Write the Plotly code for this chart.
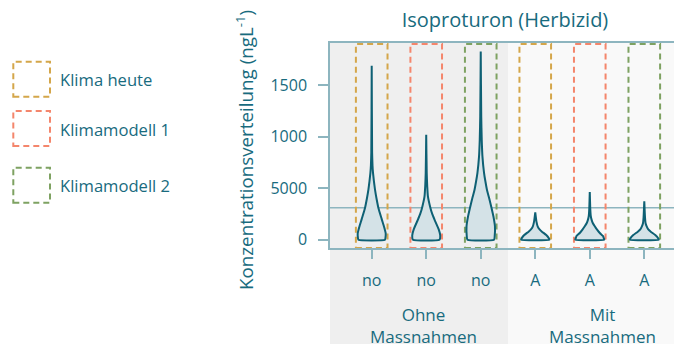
import plotly.graph_objects as go

# ---------------- data ----------------
categories = ["no", "no", "no", "A", "A", "A"]
scenario_names = ["Klima heute", "Klimamodell 1", "Klimamodell 2"]
scenario_of_cat = [0, 1, 2, 0, 1, 2]
groups = ["Ohne<br>Massnahmen", "Mit<br>Massnahmen"]

y_tickvals = [0, 500, 1000, 1500]
y_ticktext = ["0", "5000", "1000", "1500"]
reference_level = 310

# violin profiles: concentration levels and relative density (half width)
v1_levels = [0, 20, 60, 120, 200, 308, 400, 486, 570, 650, 720, 850, 1690]
v1_density = [13.3, 13.8, 14.0, 12.5, 10.0, 6.7, 4.8, 3.3, 2.2, 1.3, 0.8, 0.4, 0.0]
v2_levels = [0, 40, 100, 195, 250, 308, 420, 520, 650, 1020]
v2_density = [13.3, 14.0, 12.5, 8.3, 6.0, 4.2, 1.7, 1.0, 0.5, 0.0]
v3_levels = [0, 40, 130, 220, 308, 400, 486, 570, 650, 810, 970, 1200, 1830]
v3_density = [13.3, 14.0, 14.2, 12.8, 10.8, 8.5, 6.2, 4.6, 3.3, 1.7, 1.0, 0.5, 0.0]
v4_levels = [0, 15, 45, 78, 100, 126, 175, 266]
v4_density = [14.2, 13.5, 11.0, 6.7, 4.3, 2.5, 1.2, 0.0]
v5_levels = [0, 15, 35, 65, 97, 130, 162, 195, 230, 300, 464]
v5_density = [14.5, 14.0, 13.3, 10.0, 7.3, 5.0, 3.0, 1.8, 1.0, 0.5, 0.0]
v6_levels = [0, 15, 45, 78, 100, 126, 160, 220, 373]
v6_density = [14.5, 13.8, 11.0, 6.5, 4.0, 2.5, 1.3, 0.7, 0.0]

violin_levels = [v1_levels, v2_levels, v3_levels, v4_levels, v5_levels, v6_levels]
violin_density = [v1_density, v2_density, v3_density, v4_density, v5_density, v6_density]

# ---------------- style ----------------
W, H = 674, 344
ML, MR, MT, MB = 330, 0, 43, 96
PW, PH = W - ML - MR, H - MT - MB
FONT = "Open Sans"
TEXT = "#186b7e"
AXIS = "#8db5bf"
OUTLINE = "#0e6074"
FILL = "#d4e2e7"
SCEN_COLORS = ["#d4a64a", "#f4866c", "#7ea262"]
DENSITY_SCALE = 1 / 54.5
XR = [-0.765, 5.545]
YR = [-81, 1912]


def px_x(p):
    return (p - ML) / PW


def px_y(p):
    return (MT + PH - p) / PH


fig = go.Figure()

for i, (lv, dn) in enumerate(zip(violin_levels, violin_density)):
    xs = [i + d * DENSITY_SCALE for d in dn] + [i - d * DENSITY_SCALE for d in dn[::-1]] + [i + dn[0] * DENSITY_SCALE]
    ys = list(lv) + list(lv[::-1]) + [lv[0]]
    fig.add_trace(go.Scatter(
        x=xs, y=ys, mode="lines", fill="toself", fillcolor=FILL,
        line=dict(color=OUTLINE, width=2, shape="spline", smoothing=0.5),
        hoverinfo="skip", showlegend=False))

shapes = []
# group backgrounds
shapes.append(dict(type="rect", xref="x", yref="paper", x0=XR[0], x1=2.5, y0=-1, y1=1,
                   fillcolor="#efefef", line=dict(width=0), layer="below"))
shapes.append(dict(type="rect", xref="x", yref="paper", x0=2.5, x1=XR[1], y0=-1, y1=1,
                   fillcolor="#f9f9f9", line=dict(width=0), layer="below"))
# reference line
shapes.append(dict(type="line", xref="paper", yref="y", x0=0, x1=1, y0=reference_level, y1=reference_level,
                   line=dict(color=AXIS, width=1.5), layer="below"))
# dashed scenario boxes
for i, s in enumerate(scenario_of_cat):
    shapes.append(dict(type="rect", xref="x", yref="paper", x0=i - 0.29, x1=i + 0.29, y0=0, y1=0.995,
                       line=dict(color=SCEN_COLORS[s], width=2, dash="6px,4px"), layer="below"))

annotations = []
# legend
legend_box_tops = [61.7, 111, 167.7]
for k, name in enumerate(scenario_names):
    t = legend_box_tops[k]
    shapes.append(dict(type="rect", xref="paper", yref="paper", x0=px_x(13.3), x1=px_x(50),
                       y0=px_y(t + 35), y1=px_y(t),
                       line=dict(color=SCEN_COLORS[k], width=2, dash="6px,4px")))
    annotations.append(dict(text=name, xref="paper", yref="paper", x=px_x(58), y=px_y(t + 18),
                            xanchor="left", yanchor="middle", showarrow=False,
                            font=dict(family=FONT, size=16.6, color=TEXT)))

# group labels
annotations.append(dict(text=groups[0], xref="x", yref="paper", x=0.95, y=px_y(301),
                        xanchor="center", yanchor="top", showarrow=False,
                        font=dict(family=FONT, size=17, color=TEXT)))
annotations.append(dict(text=groups[1], xref="x", yref="paper", x=4.23, y=px_y(301),
                        xanchor="center", yanchor="top", showarrow=False,
                        font=dict(family=FONT, size=17, color=TEXT)))
# y axis title
annotations.append(dict(text="Konzentrationsverteilung (ngL<sup>-1</sup>)", xref="paper", yref="paper",
                        x=px_x(245), y=px_y(150), xanchor="center", yanchor="middle",
                        textangle=-90, showarrow=False,
                        font=dict(family=FONT, size=18.8, color=TEXT)))

fig.update_layout(
    width=W, height=H,
    margin=dict(l=ML, r=MR, t=MT, b=MB, pad=0),
    paper_bgcolor="white", plot_bgcolor="white",
    showlegend=False,
    title=dict(text="Isoproturon (Herbizid)", x=505 / W, xref="container", xanchor="center",
               y=1 - 20 / H, yref="container", yanchor="middle",
               font=dict(family=FONT, size=20, color=TEXT)),
    shapes=shapes, annotations=annotations,
    font=dict(family=FONT, color=TEXT),
)

fig.update_xaxes(range=XR, tickvals=list(range(len(categories))), ticktext=categories,
                 showgrid=False, zeroline=False, showline=True, linecolor=AXIS, linewidth=1.5,
                 mirror=True, ticks="outside", ticklen=9, tickwidth=1.5, tickcolor=AXIS,
                 ticklabelstandoff=8, tickfont=dict(family=FONT, size=16, color=TEXT))
fig.update_yaxes(range=YR, tickvals=y_tickvals, ticktext=y_ticktext,
                 showgrid=False, zeroline=False, showline=True, linecolor=AXIS, linewidth=1.5,
                 ticks="outside", ticklen=10, tickwidth=1.5, tickcolor=AXIS,
                 ticklabelstandoff=8, tickfont=dict(family=FONT, size=16, color=TEXT))

fig.write_html("out.html")
